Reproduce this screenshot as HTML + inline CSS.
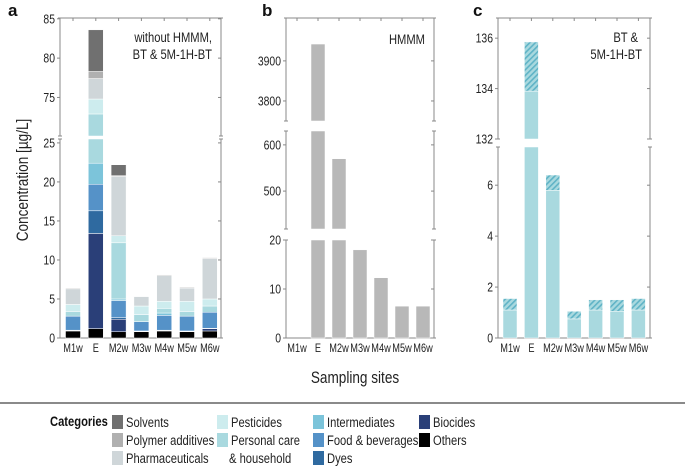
<!DOCTYPE html>
<html><head><meta charset="utf-8">
<style>
html,body{margin:0;padding:0;background:#fff;}
svg{display:block;font-family:"Liberation Sans Narrow","Liberation Sans",sans-serif;}
</style></head>
<body>
<svg id="chart" width="685" height="467" viewBox="0 0 685 467" xmlns="http://www.w3.org/2000/svg">
<defs>
<pattern id="hatch" patternUnits="userSpaceOnUse" width="4" height="4" patternTransform="rotate(45)">
<rect width="4" height="4" fill="#a9d9df"/><rect width="1.6" height="4" fill="#5fb3c6"/>
</pattern>
</defs>
</svg>
<script>
// ---------- DATA ----------
const sites = ["M1w","E","M2w","M3w","M4w","M5w","M6w"];
// panel a: stacked segment sizes per category (bottom to top)
const others       = [0.9, 1.2, 0.8, 0.8, 0.9, 0.8, 0.9];
const biocides     = [0.05,12.2, 1.6, 0.05,0.05,0.05,0.3];
const dyes         = [0.05,2.9, 0.2, 0.05,0.05,0.05,0.05];
const foodBev      = [1.8, 3.4, 2.2, 1.2, 1.9, 1.9, 2.05];
const intermediates= [0.0, 2.7, 0.2, 0.0, 0.3, 0.0, 0.0];
const personalCare = [0.6, 50.5,7.2, 0.9, 0.6, 0.6, 0.8];
const pesticides   = [0.9, 1.9, 0.9, 1.1, 0.9, 1.3, 0.9];
const pharma       = [2.0, 2.6, 7.6, 1.2, 3.3, 1.7, 5.2];
const polymer      = [0.1, 0.9, 0.1, 0.0, 0.1, 0.1, 0.1];
const solvents     = [0.0, 5.3, 1.4, 0.0, 0.0, 0.0, 0.0];
// panel b: HMMM
const hmmm = [0, 3942, 570, 18, 12.3, 6.5, 6.5];
// panel c: BT and 5M-1H-BT
const bt = [1.1, 133.9, 5.8, 0.75, 1.1, 1.05, 1.1];
const m5bt = [0.45, 1.95, 0.6, 0.3, 0.4, 0.45, 0.45];
// tick labels
const ticksAUpper = [75, 80, 85];
const ticksALower = [0, 5, 10, 15, 20, 25];
const ticksBTop = [3800, 3900];
const ticksBMid = [500, 600];
const ticksBLow = [0, 10, 20];
const ticksCUpper = [132, 134, 136];
const ticksCLower = [0, 2, 4, 6];

const catNames = ["Others","Biocides","Dyes","Food & beverages","Intermediates","Personal care & household","Pesticides","Pharmaceuticals","Polymer additives","Solvents"];
const catData = [others,biocides,dyes,foodBev,intermediates,personalCare,pesticides,pharma,polymer,solvents];
const catColors = ["#000000","#2a3f78","#2f6aa0","#5592c8","#7cc4da","#a9d9df","#cdecee","#cfd6d9","#b0b0b0","#707070"];

const svg = document.getElementById('chart');
const NS = "http://www.w3.org/2000/svg";
const CX = 0.8;
function el(tag, attrs, parent){
  const e = document.createElementNS(NS, tag);
  for (const k in attrs) e.setAttribute(k, attrs[k]);
  (parent||svg).appendChild(e); return e;
}
// condensed text: positioned via transform, scaled horizontally
function txt(s, attrs, parent, rot){
  const a = Object.assign({}, attrs);
  const x = a.x, y = a.y; delete a.x; delete a.y;
  a.x = 0; a.y = 0;
  a.transform = 'translate('+x+','+y+')' + (rot ? ' rotate('+rot+')' : '') + ' scale('+CX+',1)';
  const t = el('text', a, parent); t.textContent = s; return t;
}

function mk(v0,v1,y0,y1){ return {v0,v1,y0,y1, y:v=>y0+(v-v0)*(y1-y0)/(v1-v0)}; }

function drawFrame(g, L, R, segs, name){
  segs.forEach(s=>{
    const top = s.y(s.v1), bot = s.y(s.v0);
    [L,R].forEach(x=>{
      const ln = el('line',{x1:x,x2:x,y1:top,y2:bot,stroke:'#888','stroke-width':1},g);
      
      
      el('line',{x1:x-2,x2:x+2,y1:top,y2:top,stroke:'#888','stroke-width':1},g);
      el('line',{x1:x-2,x2:x+2,y1:bot,y2:bot,stroke:'#888','stroke-width':1},g);
    });
  });
  const bottomY = segs[0].y(segs[0].v0), topY = segs[segs.length-1].y(segs[segs.length-1].v1);
  el('line',{x1:L,x2:R,y1:bottomY,y2:bottomY,stroke:'#888','stroke-width':1},g);
  el('line',{x1:L,x2:R,y1:topY,y2:topY,stroke:'#888','stroke-width':1},g);
}
function drawTicks(g, L, R, seg, ticks){
  ticks.forEach(t=>{
    const y = seg.y(t);
    el('line',{x1:L-3,x2:L,y1:y,y2:y,stroke:'#888'},g);
    el('line',{x1:R,x2:R-3,y1:y,y2:y,stroke:'#888'},g);
    const lb = txt(String(t),{x:L-5,y:y+4.5,'text-anchor':'end','font-size':13,fill:'#222'},g);
    
    
  });
}
function drawXLabels(g, xs, topTickY, bottomY){
  sites.forEach((s,i)=>{
    const x = xs(i);
    el('line',{x1:x,x2:x,y1:topTickY,y2:topTickY+3,stroke:'#888'},g);
    const lb = txt(s,{x:x,y:bottomY+14,'text-anchor':'middle','font-size':11.5,fill:'#222'},g);
    
    
  });
}
function barPart(g, x, w, seg, a, b, fill, name){
  const lo = Math.max(a, seg.v0), hi = Math.min(b, seg.v1);
  if (hi <= lo) return;
  const r = el('rect',{x:x-w/2,y:seg.y(hi),width:w,height:Math.max(0,seg.y(lo)-seg.y(hi)),fill:fill,stroke:'#fff','stroke-width':0.5},g);
  
  
}

// ---------- PANEL A ----------
(function(){
  const g = el('g',{});
  
  
  const L=60, R=221;
  const low = mk(0,25.5,338,139);
  const up = mk(70.1,85.1,136,18);
  drawFrame(g,L,R,[low,up],'panel-a');
  drawTicks(g,L,R,low,ticksALower);
  drawTicks(g,L,R,up,ticksAUpper);
  const xs = i => 73 + i*22.8;
  sites.forEach((s,i)=>{
    let cum = 0;
    catData.forEach((arr,c)=>{
      const v = arr[i]; if (v<=0) return;
      const a = cum, b = cum+v; cum = b;
      const nm = 'bar-'+s+'-'+catNames[c].toLowerCase().replace(/[^a-z]+/g,'-');
      barPart(g, xs(i), 15, low, a, b, catColors[c], nm);
      barPart(g, xs(i), 15, up, a, b, catColors[c], nm);
    });
  });
  drawXLabels(g, xs, 18, 338);
  const ttl = txt('without HMMM,',{x:212,y:42,'text-anchor':'end','font-size':14,fill:'#222'},g);
   
  const t2 = txt('BT & 5M-1H-BT',{x:212,y:59,'text-anchor':'end','font-size':14,fill:'#222'},g);
   
  const pl = el('text',{x:8,y:16,'font-size':17,'font-weight':'bold',fill:'#111','font-family':'Liberation Sans'},g);
  pl.textContent='a';
   
})();

// ---------- PANEL B ----------
(function(){
  const g = el('g',{});
  
  
  const L=286, R=434;
  const low = mk(0,20,338,240);
  const mid = mk(418,630,229,131);
  const top = mk(3750,4007,121,18);
  drawFrame(g,L,R,[low,mid,top],'panel-b');
  drawTicks(g,L,R,low,ticksBLow);
  drawTicks(g,L,R,mid,ticksBMid);
  drawTicks(g,L,R,top,ticksBTop);
  const xs = i => 297 + i*21;
  sites.forEach((s,i)=>{
    [low,mid,top].forEach(seg=>barPart(g, xs(i), 14, seg, 0, hmmm[i], '#b8b8b8', 'bar-hmmm-'+s));
  });
  drawXLabels(g, xs, 18, 338);
  const t = txt('HMMM',{x:425,y:44,'text-anchor':'end','font-size':14,fill:'#222'},g);
   
  const pl = el('text',{x:262,y:16,'font-size':17,'font-weight':'bold',fill:'#111','font-family':'Liberation Sans'},g);
  pl.textContent='b';
   
})();

// ---------- PANEL C ----------
(function(){
  const g = el('g',{});
  
  
  const L=498, R=650;
  const low = mk(0,7.5,338,147);
  const up = mk(132,136.8,139,18);
  drawFrame(g,L,R,[low,up],'panel-c');
  drawTicks(g,L,R,low,ticksCLower);
  drawTicks(g,L,R,up,ticksCUpper);
  const xs = i => 510 + i*21.4;
  sites.forEach((s,i)=>{
    [low,up].forEach(seg=>{
      barPart(g, xs(i), 14, seg, 0, bt[i], '#a9d9df', 'bar-bt-'+s);
      barPart(g, xs(i), 14, seg, bt[i], bt[i]+m5bt[i], 'url(#hatch)', 'bar-5m1hbt-'+s);
    });
  });
  drawXLabels(g, xs, 18, 338);
  const t = txt('BT &',{x:638,y:42,'text-anchor':'end','font-size':14,fill:'#222'},g);
   
  const t2 = txt('5M-1H-BT',{x:642,y:59,'text-anchor':'end','font-size':14,fill:'#222'},g);
   
  const pl = el('text',{x:473,y:16,'font-size':17,'font-weight':'bold',fill:'#111','font-family':'Liberation Sans'},g);
  pl.textContent='c';
   
})();

// ---------- AXIS TITLES ----------
const yt = txt('Concentration [µg/L]',{x:28,y:180,'text-anchor':'middle','font-size':17,fill:'#222'},svg,-90);


const xt = txt('Sampling sites',{x:355,y:383,'text-anchor':'middle','font-size':17,fill:'#222'});


const sep = el('line',{x1:0,x2:685,y1:403,y2:403,stroke:'#444','stroke-width':1.2});



// ---------- LEGEND ----------
const lg = el('g',{});


const lt = txt('Categories',{x:50,y:426,'font-size':14,'font-weight':'bold',fill:'#111'},lg);


const legendItems = [
  ["Solvents",9,112,422],["Polymer additives",8,112,440],["Pharmaceuticals",7,112,458],
  ["Pesticides",6,217,422],["Personal care",5,217,440],
  ["Intermediates",4,313,422],["Food & beverages",3,313,440],["Dyes",2,313,458],
  ["Biocides",1,419,422],["Others",0,419,440]
];
legendItems.forEach(it=>{
  const r = el('rect',{x:it[2],y:it[3]-7,width:11,height:14,fill:catColors[it[1]]},lg);
  
  
  const t = txt(it[0],{x:it[2]+14,y:it[3]+5,'font-size':14,fill:'#222'},lg);
  
  
});
const hh = txt('& household',{x:229,y:463,'font-size':14,fill:'#222'},lg);


</script>
</body></html>
